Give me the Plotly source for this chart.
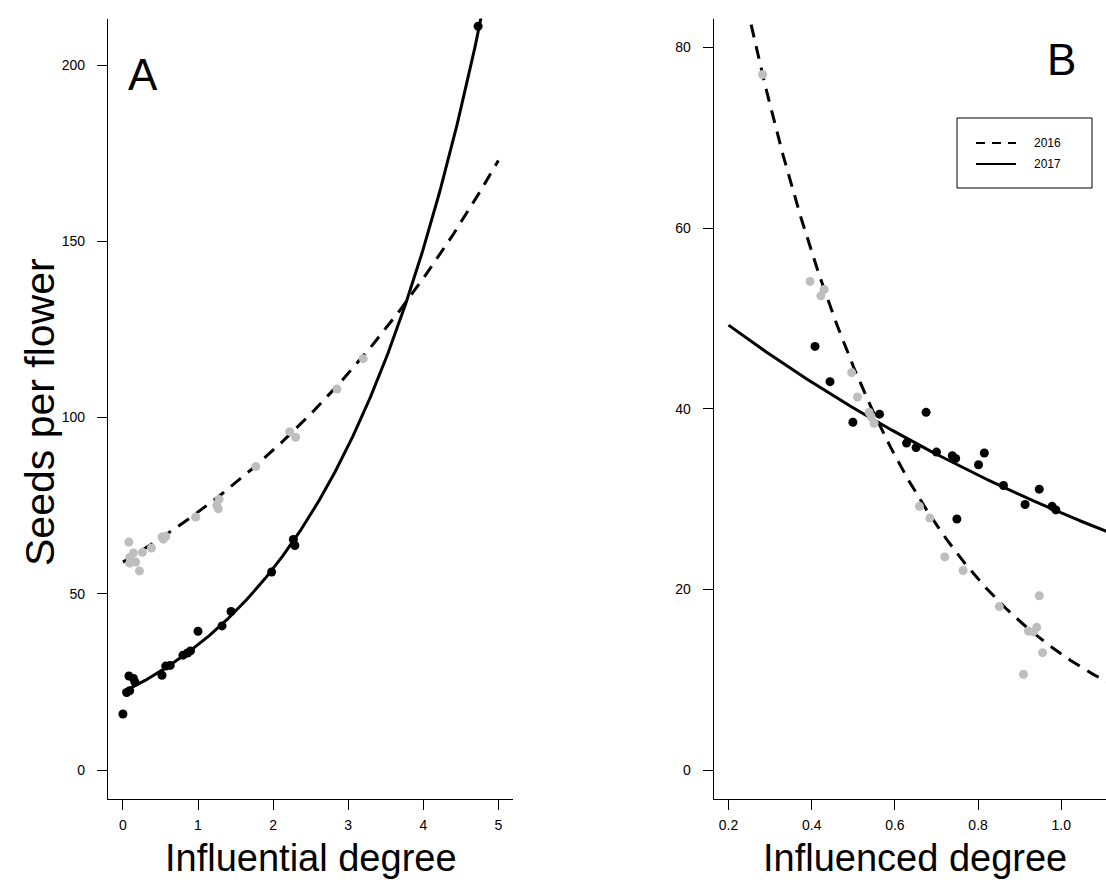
import numpy as np
import plotly.graph_objects as go

W, H = 1106, 882

# ---- Panel A: seeds per flower vs influential degree ----
a_x_2016 = [0.08, 0.14, 0.09, 0.09, 0.17, 0.22, 0.26, 0.38, 0.52, 0.54, 0.57,
            0.97, 1.25, 1.27, 1.28, 1.77, 2.22, 2.30, 2.85, 3.20]
a_y_2016 = [64.7, 61.6, 60.3, 58.7, 59.0, 56.5, 61.8, 63.0, 66.1, 65.5, 66.3,
            71.8, 75.1, 74.1, 76.8, 86.1, 96.0, 94.4, 108.1, 116.7]
a_x_2017 = [0.00, 0.05, 0.09, 0.08, 0.14, 0.16, 0.52, 0.57, 0.63, 0.80, 0.86,
            0.90, 1.00, 1.32, 1.44, 1.98, 2.27, 2.29, 4.73]
a_y_2017 = [15.9, 22.0, 22.5, 26.7, 26.0, 25.0, 26.9, 29.5, 29.7, 32.6, 33.2,
            33.8, 39.4, 40.9, 45.0, 56.2, 65.4, 63.7, 211.0]

# ---- Panel B: seeds per flower vs influenced degree ----
b_x_2016 = [0.282, 0.396, 0.422, 0.430, 0.496, 0.510, 0.538, 0.543, 0.550,
            0.659, 0.684, 0.720, 0.764, 0.851, 0.909, 0.921, 0.933, 0.941,
            0.947, 0.955]
b_y_2016 = [77.0, 54.1, 52.5, 53.2, 44.0, 41.3, 39.6, 39.1, 38.4,
            29.2, 27.9, 23.6, 22.1, 18.1, 10.6, 15.4, 15.3, 15.8,
            19.3, 13.0]
b_x_2017 = [0.408, 0.444, 0.499, 0.563, 0.628, 0.651, 0.675, 0.700, 0.738,
            0.746, 0.749, 0.801, 0.815, 0.861, 0.913, 0.947, 0.978, 0.987]
b_y_2017 = [46.9, 43.0, 38.5, 39.4, 36.2, 35.7, 39.6, 35.2, 34.8,
            34.5, 27.8, 33.8, 35.1, 31.5, 29.4, 31.1, 29.2, 28.8]

# log-linear fits: seeds = exp(intercept + slope * degree)
fit_a = {"2016": (4.0775, 0.2151), "2017": (3.0956, 0.4752)}
fit_b = {"2016": (5.0467, -2.494), "2017": (4.0342, -0.6857)}
span_a = (0.0, 5.0)
span_b = (0.2, 1.12)

years = ["2016", "2017"]
point_color = {"2016": "#bebebe", "2017": "#000000"}
line_dash = {"2016": "13px,9px", "2017": "solid"}

FONT = "Liberation Sans, Arial, Helvetica, sans-serif"

fig = go.Figure()

def add_fit(fit, span, xa, ya):
    for yr in years:
        b0, b1 = fit[yr]
        xs = np.linspace(span[0], span[1], 300)
        fig.add_trace(go.Scatter(
            x=xs, y=np.exp(b0 + b1 * xs), mode="lines",
            line=dict(color="black", width=3, dash=line_dash[yr]),
            xaxis=xa, yaxis=ya, showlegend=False, hoverinfo="skip"))

def add_points(x, y, yr, xa, ya):
    fig.add_trace(go.Scatter(
        x=x, y=y, mode="markers",
        marker=dict(color=point_color[yr], size=9, line=dict(width=0)),
        xaxis=xa, yaxis=ya, showlegend=False, cliponaxis=False))

add_fit(fit_a, span_a, "x", "y")
add_fit(fit_b, span_b, "x2", "y2")
add_points(a_x_2016, a_y_2016, "2016", "x", "y")
add_points(a_x_2017, a_y_2017, "2017", "x", "y")
add_points(b_x_2016, b_y_2016, "2016", "x2", "y2")
add_points(b_x_2017, b_y_2017, "2017", "x2", "y2")

def px(v):
    return v / W

def py(v):
    return 1 - v / H

axis_style = dict(
    showline=True, linecolor="black", linewidth=1,
    ticks="outside", ticklen=10, tickwidth=1, tickcolor="black",
    showgrid=False, zeroline=False,
    tickfont=dict(family=FONT, size=14, color="black"),
)

y_dom = [py(799), py(18.5)]

fig.update_layout(
    width=W, height=H, autosize=False,
    margin=dict(l=0, r=0, t=0, b=0),
    paper_bgcolor="white", plot_bgcolor="white",
    font=dict(family=FONT, color="black"),
    xaxis=dict(domain=[px(107.9), px(513.4)], range=[-0.2, 5.2],
               tickvals=[0, 1, 2, 3, 4, 5], anchor="y",
               ticklabelstandoff=3, **axis_style),
    yaxis=dict(domain=y_dom, range=[-8.2, 213.2],
               tickvals=[0, 50, 100, 150, 200], anchor="x",
               ticklabelstandoff=9, **axis_style),
    xaxis2=dict(domain=[px(713.7), 1.0], range=[0.1644, 1.1075],
                tickvals=[0.2, 0.4, 0.6, 0.8, 1.0], tickformat=".1f",
                anchor="y2", ticklabelstandoff=3, **axis_style),
    yaxis2=dict(domain=y_dom, range=[-3.2, 83.2],
                tickvals=[0, 20, 40, 60, 80], anchor="x2",
                ticklabelstandoff=9, **axis_style),
)

annots = [
    dict(text="Seeds per flower", x=px(40), y=py(412), textangle=-90,
         font=dict(family=FONT, size=41, color="black")),
    dict(text="Influential degree", x=px(310.7), y=py(857.5),
         font=dict(family=FONT, size=38, color="black")),
    dict(text="Influenced degree", x=px(915), y=py(857.5),
         font=dict(family=FONT, size=38, color="black")),
    dict(text="A", x=px(143), y=py(74), font=dict(family=FONT, size=44, color="black")),
    dict(text="B", x=px(1061), y=py(60), font=dict(family=FONT, size=44, color="black")),
]
for a in annots:
    fig.add_annotation(xref="paper", yref="paper", showarrow=False,
                       xanchor="center", yanchor="middle", **a)

# legend box
fig.add_shape(type="rect", xref="paper", yref="paper",
              x0=px(957), x1=px(1092), y0=py(188), y1=py(118),
              line=dict(color="black", width=1), fillcolor="white", layer="above")
legend_dash = {"2016": "9px,7px", "2017": "solid"}
for i, yr in enumerate(years):
    yy = 143 + 21 * i
    fig.add_shape(type="line", xref="paper", yref="paper",
                  x0=px(976), x1=px(1016), y0=py(yy), y1=py(yy),
                  line=dict(color="black", width=2, dash=legend_dash[yr]))
    fig.add_annotation(xref="paper", yref="paper", showarrow=False,
                       x=px(1032), y=py(yy), xanchor="left", yanchor="middle",
                       text=yr, font=dict(family=FONT, size=12, color="black"))

fig.write_html("out.html")
